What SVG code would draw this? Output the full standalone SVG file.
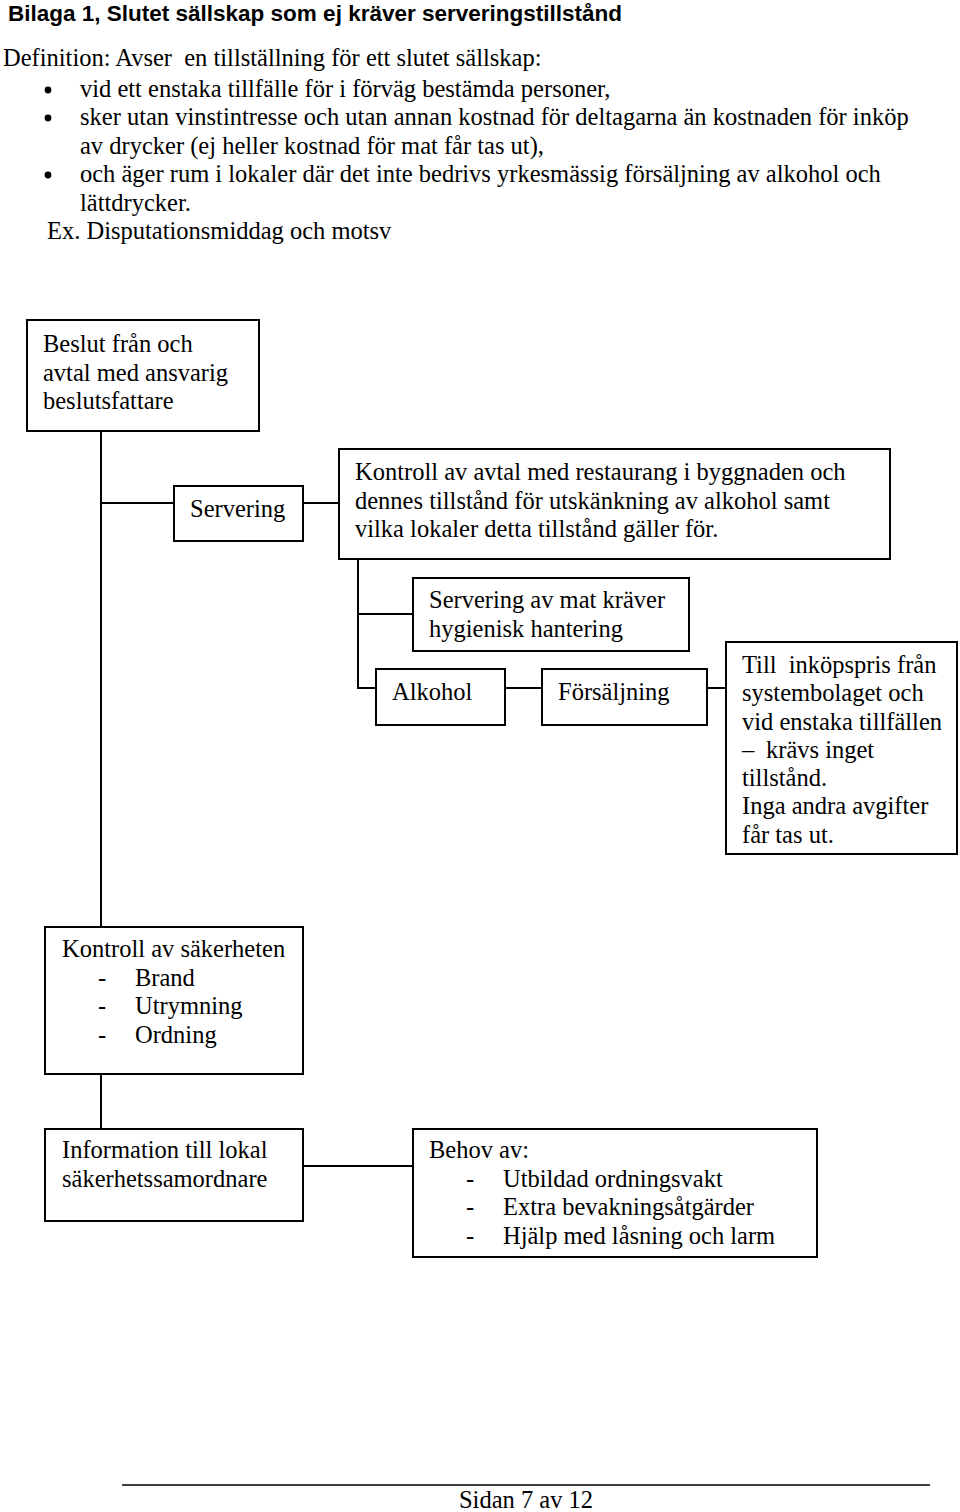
<svg xmlns="http://www.w3.org/2000/svg" width="960" height="1512" viewBox="0 0 960 1512">
<style>
.t{font-family:"Liberation Serif","Times New Roman",serif;font-size:24.5px;fill:#000;white-space:pre}
.h{font-family:"Liberation Sans",Arial,sans-serif;font-size:22.5px;font-weight:bold;fill:#000}
.b{fill:#fff;stroke:#000;stroke-width:2}
.c{fill:none;stroke:#000;stroke-width:2}
</style>
<rect width="960" height="1512" fill="#fff"/>
<g id="header">
<text class="h" x="8" y="21">Bilaga 1, Slutet sällskap som ej kräver serveringstillstånd</text>
<text class="t" x="3" y="66" xml:space="preserve">Definition: Avser  en tillställning för ett slutet sällskap:</text>
<circle cx="48" cy="90" r="3.4"/>
<text class="t" x="80" y="97">vid ett enstaka tillfälle för i förväg bestämda personer,</text>
<circle cx="48" cy="118" r="3.4"/>
<text class="t" x="80" y="125">sker utan vinstintresse och utan annan kostnad för deltagarna än kostnaden för inköp</text>
<text class="t" x="80" y="154">av drycker (ej heller kostnad för mat får tas ut),</text>
<circle cx="48" cy="175" r="3.4"/>
<text class="t" x="80" y="182">och äger rum i lokaler där det inte bedrivs yrkesmässig försäljning av alkohol och</text>
<text class="t" x="80" y="211">lättdrycker.</text>
<text class="t" x="47" y="239">Ex. Disputationsmiddag och motsv</text>
</g>
<g id="connectors">
<path class="c" d="M101 431V927M101 503H174M303 503H339M358 559V688H376M358 614H413M505 688H542M707 688H726M101 1074V1129M303 1166H413"/>
</g>
<g id="n-beslut">
<rect class="b" x="27" y="320" width="232" height="111"/>
<text class="t" x="43" y="352">Beslut från och</text>
<text class="t" x="43" y="380.5">avtal med ansvarig</text>
<text class="t" x="43" y="409">beslutsfattare</text>
</g>
<g id="n-servering">
<rect class="b" x="174" y="486" width="129" height="55"/>
<text class="t" x="190" y="517">Servering</text>
</g>
<g id="n-kontroll-avtal">
<rect class="b" x="339" y="449" width="551" height="110"/>
<text class="t" x="355" y="480">Kontroll av avtal med restaurang i byggnaden och</text>
<text class="t" x="355" y="508.5">dennes tillstånd för utskänkning av alkohol samt</text>
<text class="t" x="355" y="537">vilka lokaler detta tillstånd gäller för.</text>
</g>
<g id="n-mat">
<rect class="b" x="413" y="578" width="276" height="73"/>
<text class="t" x="429" y="608">Servering av mat kräver</text>
<text class="t" x="429" y="637">hygienisk hantering</text>
</g>
<g id="n-alkohol">
<rect class="b" x="376" y="669" width="129" height="56"/>
<text class="t" x="392" y="700">Alkohol</text>
</g>
<g id="n-forsaljning">
<rect class="b" x="542" y="669" width="165" height="56"/>
<text class="t" x="558" y="700">Försäljning</text>
</g>
<g id="n-till">
<rect class="b" x="726" y="642" width="231" height="212"/>
<text class="t" x="742" y="673" xml:space="preserve">Till  inköpspris från</text>
<text class="t" x="742" y="701">systembolaget och</text>
<text class="t" x="742" y="729.5">vid enstaka tillfällen</text>
<text class="t" y="757.5"><tspan x="742">–</tspan><tspan x="766">krävs inget</tspan></text>
<text class="t" x="742" y="786">tillstånd.</text>
<text class="t" x="742" y="814">Inga andra avgifter</text>
<text class="t" x="742" y="842.5">får tas ut.</text>
</g>
<g id="n-sakerhet">
<rect class="b" x="45" y="927" width="258" height="147"/>
<text class="t" x="62" y="957">Kontroll av säkerheten</text>
<text class="t" y="985.5"><tspan x="98">-</tspan><tspan x="135">Brand</tspan></text>
<text class="t" y="1014"><tspan x="98">-</tspan><tspan x="135">Utrymning</tspan></text>
<text class="t" y="1042.5"><tspan x="98">-</tspan><tspan x="135">Ordning</tspan></text>
</g>
<g id="n-information">
<rect class="b" x="45" y="1129" width="258" height="92"/>
<text class="t" x="62" y="1158">Information till lokal</text>
<text class="t" x="62" y="1187">säkerhetssamordnare</text>
</g>
<g id="n-behov">
<rect class="b" x="413" y="1129" width="404" height="128"/>
<text class="t" x="429" y="1158">Behov av:</text>
<text class="t" y="1186.5"><tspan x="466">-</tspan><tspan x="503">Utbildad ordningsvakt</tspan></text>
<text class="t" y="1215"><tspan x="466">-</tspan><tspan x="503">Extra bevakningsåtgärder</tspan></text>
<text class="t" y="1243.5"><tspan x="466">-</tspan><tspan x="503">Hjälp med låsning och larm</tspan></text>
</g>
<g id="footer">
<line x1="122" y1="1485" x2="930" y2="1485" stroke="#000" stroke-width="1.5"/>
<text class="t" x="526" y="1508" text-anchor="middle">Sidan 7 av 12</text>
</g>
</svg>
